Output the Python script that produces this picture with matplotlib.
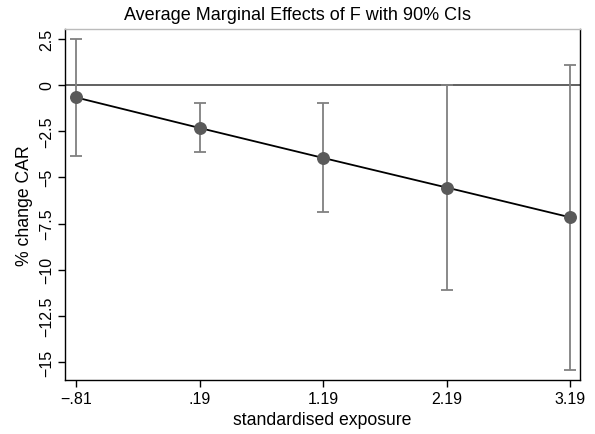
import matplotlib
matplotlib.use("Agg")
import matplotlib.pyplot as plt

plt.rcParams['font.family'] = ['Liberation Sans', 'DejaVu Sans']

x_vals = [-0.81, 0.19, 1.19, 2.19, 3.19]
x_labels = ["\u2212.81", ".19", "1.19", "2.19", "3.19"]
effects = [-0.68, -2.33, -3.95, -5.55, -7.16]
ci_low = [-3.85, -3.65, -6.90, -11.10, -15.40]
ci_high = [2.49, -1.00, -1.00, 0.00, 1.08]
y_ticks = [2.5, 0, -2.5, -5, -7.5, -10, -12.5, -15]
y_labels = ["2.5", "0", "\u22122.5", "\u22125", "\u22127.5", "\u221210", "\u221212.5", "\u221215"]

fig = plt.figure(figsize=(5.95, 4.35), dpi=100)
ax = fig.add_axes([65/595, 1-380.7/435, (580-65)/595, (380.7-30)/435])

ax.axhline(0, color='#606060', lw=1.4, zorder=1)
yerr = [[e - l for e, l in zip(effects, ci_low)], [h - e for e, h in zip(effects, ci_high)]]
ax.errorbar(x_vals, effects, yerr=yerr, fmt='none', ecolor='#808080', elinewidth=1.3,
            capsize=4, capthick=1.3, zorder=2)
ax.plot(x_vals, effects, color='black', lw=1.3, zorder=3)
ax.plot(x_vals, effects, 'o', color='#5a5a5a', ms=8.3, zorder=4)

ax.set_xlim(-0.90, 3.27)
ax.set_ylim(-15.94, 3.02)
ax.set_xticks(x_vals)
ax.set_xticklabels(x_labels, fontsize=11.5)
ax.set_yticks(y_ticks)
ax.set_yticklabels(y_labels, fontsize=11.5, rotation=90, va='center')
ax.tick_params(direction='out', length=5, width=1, colors='black', pad=3)
for s in ax.spines.values():
    s.set_color('black')
    s.set_linewidth(1.0)
ax.spines['top'].set_color('#bbbbbb')

ax.set_xlabel("standardised exposure", fontsize=12.7, labelpad=4)
ax.set_ylabel("% change CAR", fontsize=12.7, labelpad=4)
fig.text(0.5, 1 - 15/435, "Average Marginal Effects of F with 90% CIs", fontsize=13,
         ha='center', va='center')

fig.savefig("out.png", dpi=100)
